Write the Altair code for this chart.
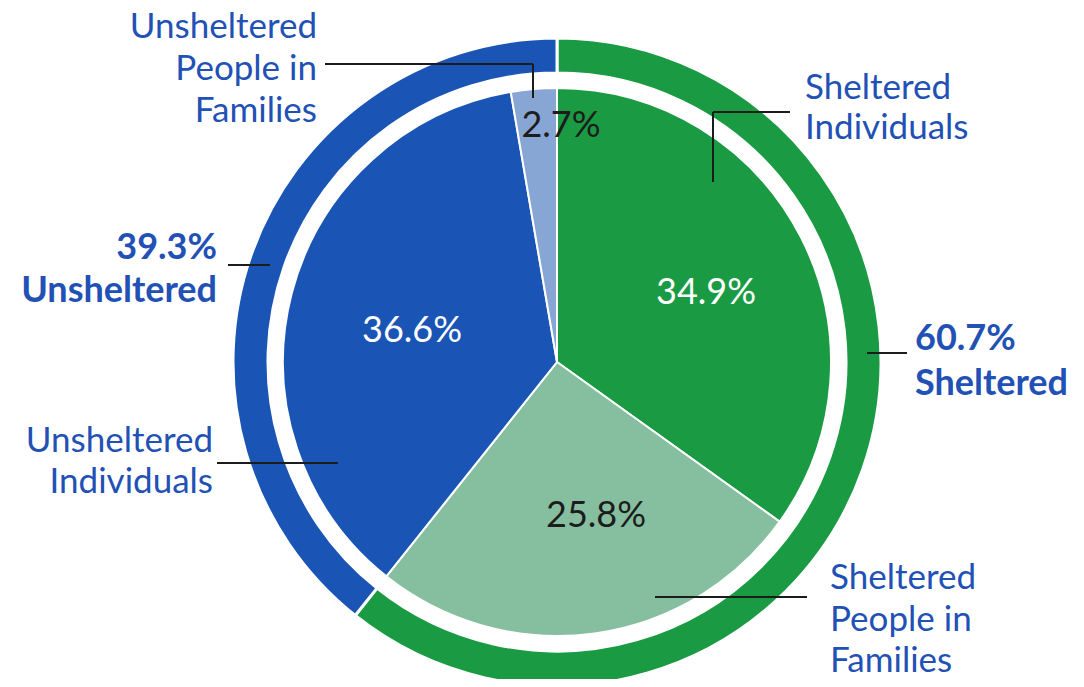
import altair as alt
import pandas as pd

# ---------------- data ----------------
inner_labels = ["Sheltered Individuals", "Sheltered People in Families",
                "Unsheltered Individuals", "Unsheltered People in Families"]
inner_values = [34.9, 25.8, 36.6, 2.7]
outer_labels = ["Sheltered", "Unsheltered"]
outer_values = [60.7, 39.3]

# ---------------- style ----------------
inner_colors = ["#1a9a43", "#86bfa0", "#1a55b5", "#87a6d4"]
outer_colors = ["#1a9a43", "#1a55b5"]
BLUE_TEXT = "#2251b6"
DARK = "#1c1c1c"
FONT = "Lato"

PAD = 6
OX, OY = 8 + PAD, 8 + PAD          # page position of the plot origin
W, H = 1084 - 2 * OX, 687 - 2 * OY
xs = alt.Scale(domain=[OX, OX + W], nice=False, zero=False)
ys = alt.Scale(domain=[OY, OY + H], nice=False, zero=False, reverse=True)
cscale = alt.Scale(domain=inner_labels + outer_labels, range=inner_colors + outer_colors)
CX, CY = 557, 362

pie_df = pd.DataFrame({"cat": inner_labels, "val": inner_values, "idx": list(range(len(inner_values)))})
ring_df = pd.DataFrame({"cat": outer_labels, "val": outer_values, "idx": list(range(len(outer_values)))})

def arc_layer(df, **mk):
    return alt.Chart(df).mark_arc(stroke="white", **mk).encode(
        theta=alt.Theta("val:Q", stack=True, scale=alt.Scale(domain=[0, 100])),
        color=alt.Color("cat:N", scale=cscale, legend=None),
        order=alt.Order("idx:Q"),
        x=alt.X(datum=CX, type="quantitative", scale=xs, axis=None),
        y=alt.Y(datum=CY, type="quantitative", scale=ys, axis=None),
    )

ring = arc_layer(ring_df, radius=324, radius2=289, strokeWidth=3)
pie = arc_layer(pie_df, radius=274, strokeWidth=2)

# ---------------- annotation layout ----------------
seg_x = [325, 533, 713, 713, 228, 867, 217, 655]
seg_y = [64, 64, 112, 112, 265, 353, 463, 597]
seg_x2 = [533, 533, 790, 713, 270, 907, 338, 807]
seg_y2 = [64, 98, 112, 182, 265, 353, 463, 597]
seg_df = pd.DataFrame({"x": seg_x, "y": seg_y, "x2": seg_x2, "y2": seg_y2})
rules = alt.Chart(seg_df).mark_rule(color=DARK, strokeWidth=2).encode(
    x=alt.X("x:Q", scale=xs, axis=None), y=alt.Y("y:Q", scale=ys, axis=None),
    x2="x2:Q", y2="y2:Q")

def pct(v):
    return f"{v}%"

reg_rows = [
    ("Unsheltered", 317, 38, "right"), ("People in", 317, 80, "right"), ("Families", 317, 122, "right"),
    ("Sheltered", 805, 99, "left"), ("Individuals", 805, 139, "left"),
    ("Unsheltered", 213, 452, "right"), ("Individuals", 213, 493, "right"),
    ("Sheltered", 830, 589, "left"), ("People in", 830, 631, "left"), ("Families", 830, 672, "left"),
]
bold_rows = [
    (pct(outer_values[1]), 217, 259, "right"), (outer_labels[1], 217, 302, "right"),
    (pct(outer_values[0]), 915, 350, "left"), (outer_labels[0], 915, 395, "left"),
]
white_rows = [(pct(inner_values[0]), 706, 304, "center"), (pct(inner_values[2]), 412, 342, "center")]
dark_rows = [(pct(inner_values[1]), 596, 527, "center"), (pct(inner_values[3]), 561, 137, "center")]

def text_layer(rows, color, size, weight="normal"):
    df = pd.DataFrame(rows, columns=["t", "x", "y", "a"])
    layers = []
    for a in ["left", "center", "right"]:
        sub = df[df["a"] == a]
        if len(sub) == 0:
            continue
        layers.append(alt.Chart(sub).mark_text(align=a, baseline="alphabetic", font=FONT,
                                               fontSize=size, fontWeight=weight, color=color).encode(
            x=alt.X("x:Q", scale=xs, axis=None), y=alt.Y("y:Q", scale=ys, axis=None), text="t:N"))
    return layers

texts = (text_layer(reg_rows, BLUE_TEXT, 35) + text_layer(bold_rows, BLUE_TEXT, 36, "bold")
         + text_layer(white_rows, "white", 36) + text_layer(dark_rows, DARK, 36))

chart = alt.layer(ring, pie, rules, *texts).properties(
    width=W, height=H, padding=PAD, autosize="none"
).configure_view(stroke=None)

chart.save("out.html", embed_options={"renderer": "svg", "actions": False})
